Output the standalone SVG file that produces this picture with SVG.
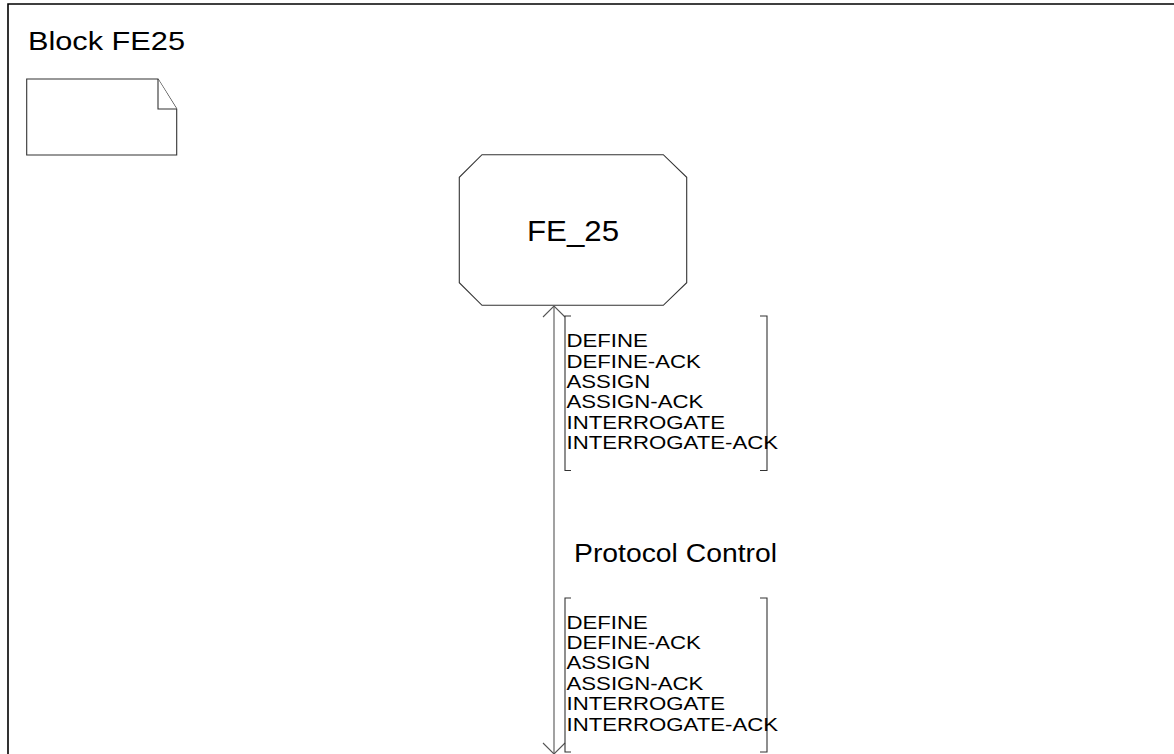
<svg xmlns="http://www.w3.org/2000/svg" width="1174" height="754" viewBox="0 0 1174 754">
<style>
.frame{fill:none;stroke:#000;stroke-width:1.6}
.shape{fill:#fff;stroke:#333;stroke-width:1.1}
.conn{fill:none;stroke:#555;stroke-width:1.1}
.br{fill:none;stroke:#333;stroke-width:1.1}
text{font-family:"Liberation Sans",Arial,sans-serif;fill:#000}
.msg{font-size:18.5px}
</style>
<rect x="0" y="0" width="1174" height="754" fill="#fff"/>
<g id="block-frame">
<path class="frame" d="M8,754 V4 H1174"/>
<text x="28" y="49.5" font-size="25" textLength="157" lengthAdjust="spacingAndGlyphs">Block FE25</text>
</g>
<g id="note">
<path class="shape" d="M26.7,79 H158 L176.7,109 V155 H26.7 Z"/>
<path class="shape" d="M158,79 V109 H176.7" fill="none"/>
</g>
<g id="FE_25">
<polygon class="shape" points="482,154.7 663.3,154.7 686.7,177.3 686.7,282.7 663.3,305.3 482,305.3 459.3,282.7 459.3,177.3"/>
<text x="573" y="241" font-size="30" text-anchor="middle" textLength="92" lengthAdjust="spacingAndGlyphs">FE_25</text>
</g>
<g id="connectors">
<line class="conn" x1="554" y1="306" x2="554" y2="754"/>
<path class="conn" d="M543,317 L554,306 L565,317"/>
<path class="conn" d="M543,743 L554,754 L565,743"/>
</g>
<g id="signal-list-1">
<path class="br" d="M571,316 H565 V470.5 H571"/>
<path class="br" d="M760,316 H767 V470.5 H760"/>
<g transform="translate(566.5,0) scale(1.2,1)" class="msg">
<text x="0" y="347.3">DEFINE</text>
<text x="0" y="367.7">DEFINE-ACK</text>
<text x="0" y="388.1">ASSIGN</text>
<text x="0" y="408.5">ASSIGN-ACK</text>
<text x="0" y="428.9">INTERROGATE</text>
<text x="0" y="449.3">INTERROGATE-ACK</text>
</g>
</g>
<g id="channel-label">
<text x="574" y="562" font-size="26.5" textLength="203" lengthAdjust="spacingAndGlyphs">Protocol Control</text>
</g>
<g id="signal-list-2">
<path class="br" d="M571,598 H565 V752 H571"/>
<path class="br" d="M760,598 H767 V752 H760"/>
<g transform="translate(566.5,0) scale(1.2,1)" class="msg">
<text x="0" y="628.7">DEFINE</text>
<text x="0" y="649.1">DEFINE-ACK</text>
<text x="0" y="669.5">ASSIGN</text>
<text x="0" y="689.9">ASSIGN-ACK</text>
<text x="0" y="710.3">INTERROGATE</text>
<text x="0" y="730.7">INTERROGATE-ACK</text>
</g>
</g>
</svg>
